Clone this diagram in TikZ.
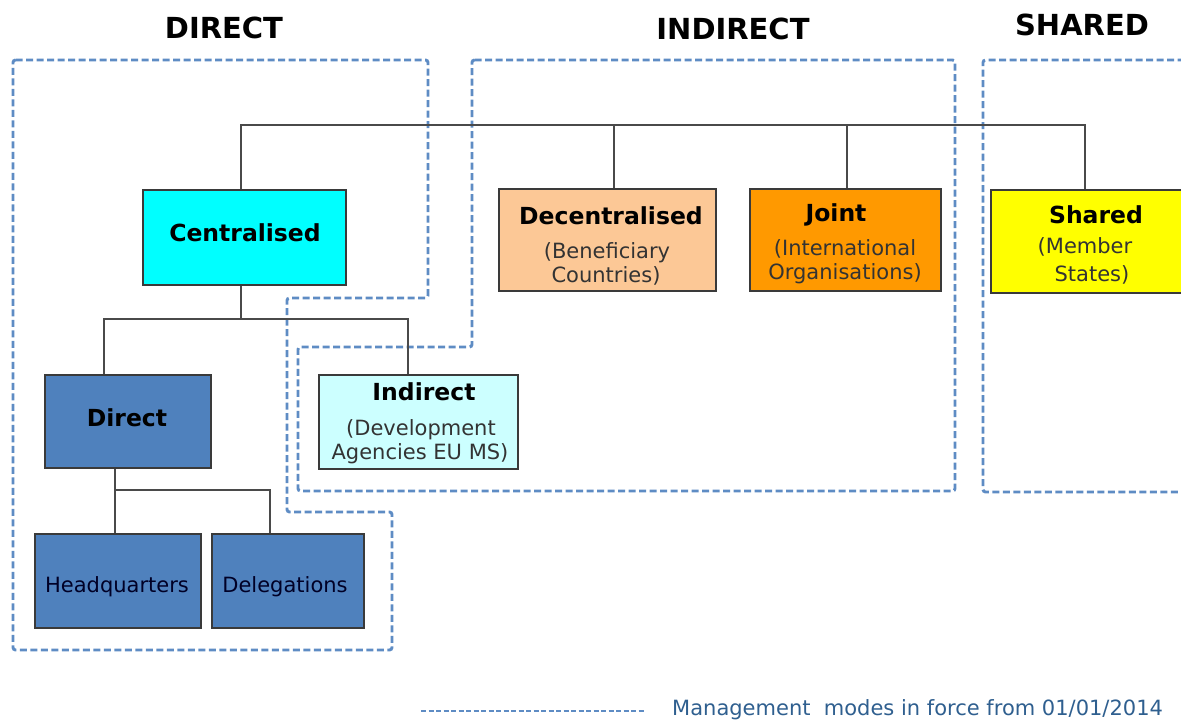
\documentclass[tikz,border=0pt]{standalone}
\usepackage{fontspec}
\setmainfont{DejaVu Sans}
\usetikzlibrary{calc}
\definecolor{dashc}{HTML}{5E8CC4}
\definecolor{legc}{HTML}{2F5F8F}
\definecolor{boxline}{HTML}{3A3A3A}
\definecolor{conn}{HTML}{4A4A4A}
\definecolor{cyanc}{HTML}{00FFFF}
\definecolor{peach}{HTML}{FCC896}
\definecolor{orangec}{HTML}{FF9900}
\definecolor{yellowc}{HTML}{FFFF00}
\definecolor{bluec}{HTML}{4F81BD}
\definecolor{lcyan}{HTML}{CCFFFF}
\begin{document}
\begin{tikzpicture}[x=1pt,y=-1pt,
  box/.style={draw=boxline, line width=1.2pt, inner sep=0pt},
  title/.style={anchor=base, font=\fontsize{29}{33}\selectfont\bfseries, text=black},
  head/.style={anchor=base, font=\fontsize{23.5}{27}\selectfont\bfseries, text=black},
  sub/.style={anchor=base, font=\fontsize{21}{25}\selectfont, text=black!80},
  conn/.style={draw=conn, line width=1.3pt},
  mode/.style={draw=dashc, line width=2.9pt, dash pattern=on 7pt off 3.5pt, rounded corners=2.5pt}]
\useasboundingbox (0,0) rectangle (1181,720);
\clip (0,0) rectangle (1181,720);

% titles
\node[title] (tD) at (224,38) {DIRECT};
\node[title] (tI) at (733,39) {INDIRECT};
\node[title] (tS) at (1082,35) {SHARED};

% dashed management-mode frames
\draw[mode] (13,60) -- (428,60) -- (428,298) -- (287,298) -- (287,512) -- (392,512) -- (392,650) -- (13,650) -- cycle;
\draw[mode] (472,60) -- (955,60) -- (955,491) -- (298,491) -- (298,347) -- (472,347) -- cycle;
\draw[mode] (1195,60) -- (983,60) -- (983,492) -- (1195,492);

% boxes
\node[box, fill=cyanc, minimum width=203pt, minimum height=95pt] (cen) at (244.5,237.5) {};
\node[box, fill=peach, minimum width=217pt, minimum height=102pt] (dec) at (607.5,240) {};
\node[box, fill=orangec, minimum width=191pt, minimum height=102pt] (joi) at (845.5,240) {};
\node[box, fill=yellowc, minimum width=210pt, minimum height=103pt] (sha) at (1096,241.5) {};
\node[box, fill=bluec, minimum width=166pt, minimum height=93pt] (dir) at (128,421.5) {};
\node[box, fill=lcyan, minimum width=199pt, minimum height=94pt] (ind) at (418.5,422) {};
\node[box, fill=bluec, minimum width=166pt, minimum height=94pt] (hq) at (118,581) {};
\node[box, fill=bluec, minimum width=152pt, minimum height=94pt] (del) at (288,581) {};

% texts
\node[head] (cenT) at (245,241) {Centralised};
\node[head] (decT) at (611,224) {Decentralised};
\node[sub] (decS1) at (607,258) {(Beneficiary};
\node[sub] (decS2) at (606,282) {Countries)};
\node[head] (joiT) at (836,221) {Joint};
\node[sub] (joiS1) at (845,255) {(International};
\node[sub] (joiS2) at (845,279) {Organisations)};
\node[head] (shaT) at (1096,223) {Shared};
\node[sub] (shaS1) at (1085,253) {(Member};
\node[sub] (shaS2) at (1092,281) {States)};
\node[head] (dirT) at (127,426) {Direct};
\node[head] (indT) at (424,400) {Indirect};
\node[sub] (indS1) at (421,435) {(Development};
\node[sub] (indS2) at (420,459) {Agencies EU MS)};
\node[sub, text=black!85!blue] (hqT) at (117,592) {Headquarters};
\node[sub, text=black!85!blue] (delT) at (285,592) {Delegations};

% connectors
\coordinate (bus) at (241,125);
\coordinate (bus2) at (241,319);
\coordinate (bus3) at (115,490);
\draw[conn] ([xshift=-3.5pt]cen.north) -- (bus) -| ([xshift=-11pt]sha.north);
\draw[conn] ([xshift=6.5pt]dec.north) -- ([xshift=6.5pt]dec.north |- bus);
\draw[conn] ([xshift=1.5pt]joi.north) -- ([xshift=1.5pt]joi.north |- bus);
\draw[conn] ([xshift=-3.5pt]cen.south) -- (bus2);
\draw[conn] ([xshift=-24pt]dir.north) |- (bus2) -| ([xshift=-10.5pt]ind.north);
\draw[conn] ([xshift=-13pt]dir.south) -- (bus3);
\draw[conn] ([xshift=-3pt]hq.north) |- (bus3) -| ([xshift=-18pt]del.north);

% legend
\coordinate (legA) at (421,711);
\coordinate (legB) at (645,711);
\draw[draw=dashc, line width=1.8pt, dash pattern=on 5pt off 2.5pt] (legA) -- (legB);
\node[anchor=base west, inner sep=0pt, text=legc, font=\fontsize{21}{25}\selectfont] (leg) at (672,715) {Management\ \ modes in force from 01/01/2014};
\end{tikzpicture}
\end{document}
